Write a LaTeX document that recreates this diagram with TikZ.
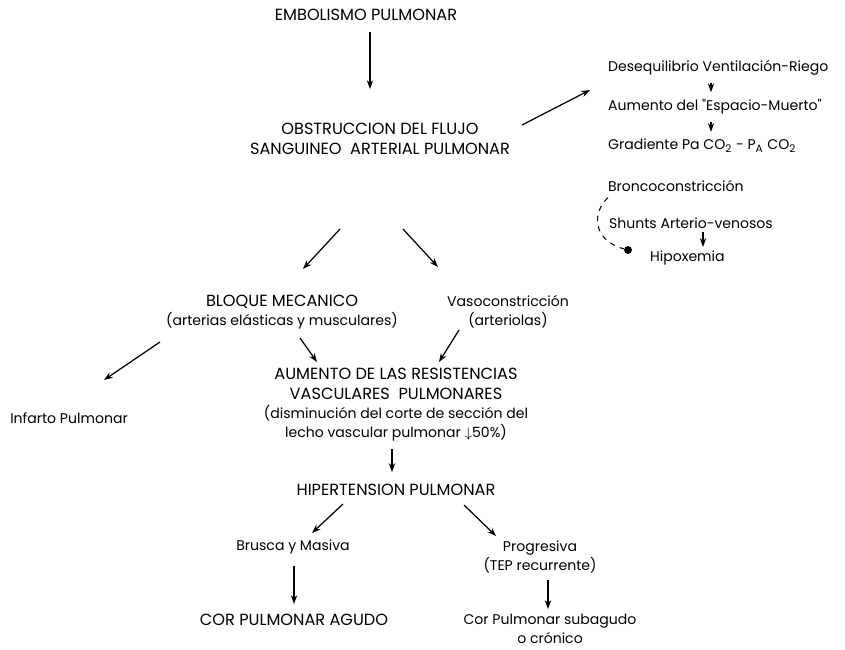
\documentclass[tikz,border=0pt]{standalone}
\usepackage{fontspec}
\setmainfont{Poppins}
\usepackage{tikz}
\usetikzlibrary{arrows.meta}

\newcommand{\capsz}{\fontsize{9.2}{11.5}\selectfont}

\begin{document}
\begin{tikzpicture}[
  x=0.02cm,y=-0.02cm,
  >={Stealth[length=5pt,width=3.6pt]},
  arr/.style={->,line width=0.7pt},
  thickarr/.style={->,line width=1.6pt},
  every node/.style={font=\fontsize{8}{11}\selectfont,inner sep=1pt,align=center},
  caps/.style={font=\capsz},
  lbl/.style={anchor=west},
  dot/.style={circle,fill=black,inner sep=0pt,minimum size=4.5pt}
]
  \useasboundingbox (0,0) rectangle (845,649);

  % main column
  \node[caps] (emb) at (366,15) {EMBOLISMO PULMONAR};
  \node[caps] (obs) at (380,139) {OBSTRUCCION DEL FLUJO\\SANGUINEO \ ARTERIAL PULMONAR};
  \node (bloque) at (282,312) {{\capsz BLOQUE MECANICO}\\(arterias elásticas y musculares)};
  \node (vaso) at (508,312) {Vasoconstricción\\(arteriolas)};
  \node (infarto) at (69,418) {Infarto Pulmonar};
  \node (aumento) at (396,405) {{\capsz AUMENTO DE LAS RESISTENCIAS}\\{\capsz VASCULARES \ PULMONARES}\\(disminución del corte de sección del\\lecho vascular pulmonar $\downarrow$50\%)};
  \node[caps] (hiper) at (396,490) {HIPERTENSION PULMONAR};
  \node (brusca) at (293,547) {Brusca y Masiva};
  \node (progr) at (540,557) {Progresiva\\(TEP recurrente)};
  \node[caps] (agudo) at (294,620) {COR PULMONAR AGUDO};
  \node (cronico) at (550,629) {Cor Pulmonar subagudo\\o crónico};

  % right block
  \node[lbl] (deseq) at (606,68) {Desequilibrio Ventilación-Riego};
  \node[lbl] (espacio) at (606,107) {Aumento del \textquotedbl Espacio-Muerto\textquotedbl};
  \node[lbl] (grad) at (606,146) {Gradiente Pa CO\textsubscript{2} - P\textsubscript{A} CO\textsubscript{2}};
  \node[lbl] (bronco) at (606,186) {Broncoconstricción};
  \node[lbl] (shunts) at (607,223) {Shunts Arterio-venosos};
  \node[lbl] (hipox) at (648,258) {Hipoxemia};
  \node[dot] (pt) at (628,250) {};

  % arrow ends
  \coordinate (e1) at (370,32);   \coordinate (o1) at (370,89);
  \coordinate (o2) at (522,125);  \coordinate (d1) at (590,90);
  \coordinate (o3) at (340,229);  \coordinate (b1) at (303,269);
  \coordinate (o4) at (403,229);  \coordinate (v1) at (438,267);
  \coordinate (b2) at (160,342);  \coordinate (i1) at (104,380);
  \coordinate (b3) at (300,338);  \coordinate (a1) at (317,362);
  \coordinate (v2) at (459,330);  \coordinate (a2) at (439,362);
  \coordinate (a3) at (392,449);  \coordinate (h1) at (392,472);
  \coordinate (h2) at (343,504);  \coordinate (r1) at (312,533);
  \coordinate (h3) at (464,505);  \coordinate (p1) at (496,536);
  \coordinate (r2) at (294,566);  \coordinate (g1) at (294,604);
  \coordinate (p2) at (548,580);  \coordinate (c1) at (548,609);

  \draw[arr] (e1) -- (o1);
  \draw[arr] (o2) -- (d1);
  \draw[arr] (o3) -- (b1);
  \draw[arr] (o4) -- (v1);
  \draw[arr] (b2) -- (i1);
  \draw[arr] (b3) -- (a1);
  \draw[arr] (v2) -- (a2);
  \draw[thickarr] (a3) -- (h1);
  \draw[arr] (h2) -- (r1);
  \draw[arr] (h3) -- (p1);
  \draw[arr] (r2) -- (g1);
  \draw[arr] (p2) -- (c1);

  % small arrows in the right block
  \draw[arr,shorten <=3pt,shorten >=3pt] (deseq.south -| 711,0) -- (espacio.north -| 711,0);
  \draw[arr,shorten <=3pt,shorten >=3pt] (espacio.south -| 711,0) -- (grad.north -| 711,0);
  \draw[arr,shorten <=1pt,shorten >=1pt] (shunts.south -| 703,0) -- (hipox.north -| 703,0);
  \draw[dashed,line width=0.6pt] (bronco.south west) ++(2,4) .. controls (592,212) and (592,240) .. (pt);
\end{tikzpicture}
\end{document}
